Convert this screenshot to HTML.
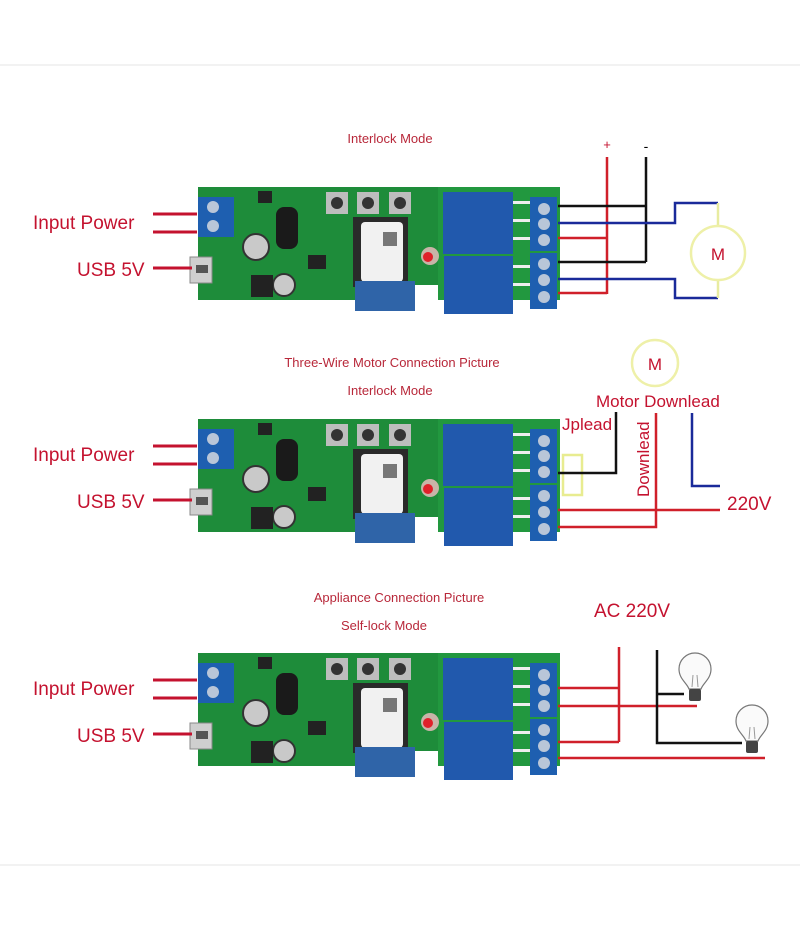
<!DOCTYPE html>
<html><head><meta charset="utf-8"><style>
html,body{margin:0;padding:0;background:#fff}
svg{display:block}
.lbl{font-family:"Liberation Sans",sans-serif;font-size:19px;fill:#c4122f}
.ttl{font-family:"Liberation Sans",sans-serif;font-size:13px;fill:#b8283a}
.wl{font-family:"Liberation Sans",sans-serif;font-size:17px;fill:#c4122f}
</style></head><body>
<svg width="800" height="930" viewBox="0 0 800 930" xmlns="http://www.w3.org/2000/svg">
<defs>
<g id="board">
  <path d="M0,0 H362 V113 H240 V98 H157 V113 H0 Z" fill="#1e8c3a"/>
  <rect x="240" y="0" width="122" height="113" fill="#22983f"/>
  <rect x="0" y="10" width="36" height="40" fill="#1e5fb0"/>
  <circle cx="15" cy="20" r="6" fill="#b9c6d8"/><circle cx="15" cy="39" r="6" fill="#b9c6d8"/>
  <rect x="-8" y="70" width="22" height="26" fill="#cfcfcf" stroke="#888"/>
  <rect x="-2" y="78" width="12" height="8" fill="#555"/>
  <rect x="78" y="20" width="22" height="42" rx="8" fill="#1a1a1a"/>
  <circle cx="58" cy="60" r="13" fill="#c9c9c9" stroke="#333" stroke-width="2"/>
  <circle cx="86" cy="98" r="11" fill="#c9c9c9" stroke="#333" stroke-width="2"/>
  <rect x="53" y="88" width="22" height="22" fill="#222"/>
  <rect x="60" y="4" width="14" height="12" fill="#222"/>
  <rect x="110" y="68" width="18" height="14" fill="#222"/>
  <rect x="128" y="5" width="22" height="22" fill="#bdbdbd"/><circle cx="139" cy="16" r="6" fill="#333"/>
  <rect x="159" y="5" width="22" height="22" fill="#bdbdbd"/><circle cx="170" cy="16" r="6" fill="#333"/>
  <rect x="191" y="5" width="22" height="22" fill="#bdbdbd"/><circle cx="202" cy="16" r="6" fill="#333"/>
  <rect x="155" y="30" width="55" height="70" fill="#2a2a2a"/>
  <rect x="163" y="35" width="42" height="60" rx="4" fill="#f1f1f1"/>
  <rect x="185" y="45" width="14" height="14" fill="#777"/>
  <rect x="157" y="94" width="60" height="30" fill="#2f64a8"/>
  <circle cx="232" cy="69" r="9" fill="#c9b4a8"/><circle cx="230" cy="70" r="5" fill="#e0202a"/>
  <rect x="245" y="5" width="70" height="62" fill="#2159ad"/>
  <rect x="246" y="69" width="69" height="58" fill="#2159ad"/>
  <rect x="315" y="14" width="18" height="3" fill="#eee"/><rect x="315" y="32" width="18" height="3" fill="#eee"/><rect x="315" y="50" width="18" height="3" fill="#eee"/>
  <rect x="315" y="78" width="18" height="3" fill="#eee"/><rect x="315" y="96" width="18" height="3" fill="#eee"/>
  <rect x="332" y="10" width="27" height="54" fill="#1e5fb0"/>
  <rect x="332" y="66" width="27" height="56" fill="#1e5fb0"/>
  <circle cx="346" cy="22" r="6" fill="#b9c6d8"/><circle cx="346" cy="37" r="6" fill="#b9c6d8"/><circle cx="346" cy="53" r="6" fill="#b9c6d8"/>
  <circle cx="346" cy="77" r="6" fill="#b9c6d8"/><circle cx="346" cy="93" r="6" fill="#b9c6d8"/><circle cx="346" cy="110" r="6" fill="#b9c6d8"/>
</g>
<g id="left">
  <text class="lbl" x="33" y="229">Input Power</text>
  <text class="lbl" x="77" y="276">USB 5V</text>
  <line x1="153" y1="214" x2="197" y2="214" stroke="#c4122f" stroke-width="3"/>
  <line x1="153" y1="232" x2="197" y2="232" stroke="#c4122f" stroke-width="3"/>
  <line x1="153" y1="268" x2="192" y2="268" stroke="#c4122f" stroke-width="3"/>
</g>
<g id="bulb">
  <path d="M-6,0 C-8,-6 -16,-10 -16,-20 A16,16 0 0,1 16,-20 C16,-10 8,-6 6,0 Z" fill="#fafafa" stroke="#777" stroke-width="1.2"/>
  <path d="M-3,-2 L-2,-14 M3,-2 L2,-14" stroke="#999" stroke-width="1"/>
  <rect x="-6" y="0" width="12" height="12" rx="2" fill="#444"/>
</g>
</defs>
<line x1="0" y1="65" x2="800" y2="65" stroke="#e6e6e6"/>
<line x1="0" y1="865" x2="800" y2="865" stroke="#e6e6e6"/>

<text class="ttl" x="390" y="143" text-anchor="middle">Interlock Mode</text>
<use href="#board" x="198" y="187"/>
<use href="#left"/>
<text x="607" y="149" font-family="Liberation Sans" font-size="13" fill="#c4122f" text-anchor="middle">+</text>
<text x="646" y="151" font-family="Liberation Sans" font-size="14" fill="#000" text-anchor="middle">-</text>
<g fill="none" stroke-width="2.5">
<line x1="607" y1="157" x2="607" y2="294" stroke="#d0202a"/>
<line x1="646" y1="157" x2="646" y2="262" stroke="#111"/>
<line x1="558" y1="206" x2="646" y2="206" stroke="#111"/>
<polyline points="558,223 675,223 675,203 718,203" stroke="#1a2a9a"/>
<line x1="558" y1="238" x2="607" y2="238" stroke="#d0202a"/>
<line x1="558" y1="262" x2="646" y2="262" stroke="#111"/>
<polyline points="558,279 675,279 675,298 718,298" stroke="#1a2a9a"/>
<line x1="558" y1="293" x2="607" y2="293" stroke="#d0202a"/>
<line x1="718" y1="203" x2="718" y2="226" stroke="#e8eca0"/>
<line x1="718" y1="280" x2="718" y2="298" stroke="#e8eca0"/>
<circle cx="718" cy="253" r="27" stroke="#eef0a8"/>
</g>
<text x="718" y="260" font-family="Liberation Sans" font-size="17" fill="#c4122f" text-anchor="middle">M</text>

<text class="ttl" x="392" y="367" text-anchor="middle">Three-Wire Motor Connection Picture</text>
<text class="ttl" x="390" y="395" text-anchor="middle">Interlock Mode</text>
<use href="#board" x="198" y="419"/>
<use href="#left" y="232"/>
<circle cx="655" cy="363" r="23" fill="none" stroke="#eef0a8" stroke-width="2.5"/>
<text x="655" y="370" font-family="Liberation Sans" font-size="17" fill="#c4122f" text-anchor="middle">M</text>
<text class="wl" x="596" y="407">Motor Downlead</text>
<text class="wl" x="562" y="430">Jplead</text>
<text class="wl" transform="translate(649,497) rotate(-90)">Downlead</text>
<g fill="none" stroke-width="2.5">
<rect x="563" y="455" width="19" height="40" stroke="#e8ec90"/>
<polyline points="558,473 616,473 616,412" stroke="#111"/>
<polyline points="692,413 692,486 720,486" stroke="#1a2a9a"/>
<line x1="558" y1="510" x2="720" y2="510" stroke="#d0202a"/>
<polyline points="558,527 656,527 656,413" stroke="#d0202a"/>
</g>
<text class="lbl" x="727" y="510">220V</text>

<text class="ttl" x="399" y="602" text-anchor="middle">Appliance Connection Picture</text>
<text class="ttl" x="384" y="630" text-anchor="middle">Self-lock Mode</text>
<use href="#board" x="198" y="653"/>
<use href="#left" y="466"/>
<text class="lbl" x="594" y="617">AC 220V</text>
<g fill="none" stroke-width="2.5">
<line x1="619" y1="647" x2="619" y2="742" stroke="#d0202a"/>
<line x1="558" y1="688" x2="619" y2="688" stroke="#d0202a"/>
<line x1="558" y1="706" x2="697" y2="706" stroke="#d0202a"/>
<line x1="558" y1="742" x2="619" y2="742" stroke="#d0202a"/>
<line x1="558" y1="758" x2="765" y2="758" stroke="#d0202a"/>
<polyline points="657,650 657,743 742,743" stroke="#111"/>
<line x1="657" y1="694" x2="684" y2="694" stroke="#111"/>
</g>
<use href="#bulb" x="695" y="689"/>
<use href="#bulb" x="752" y="741"/>
</svg>
</body></html>
